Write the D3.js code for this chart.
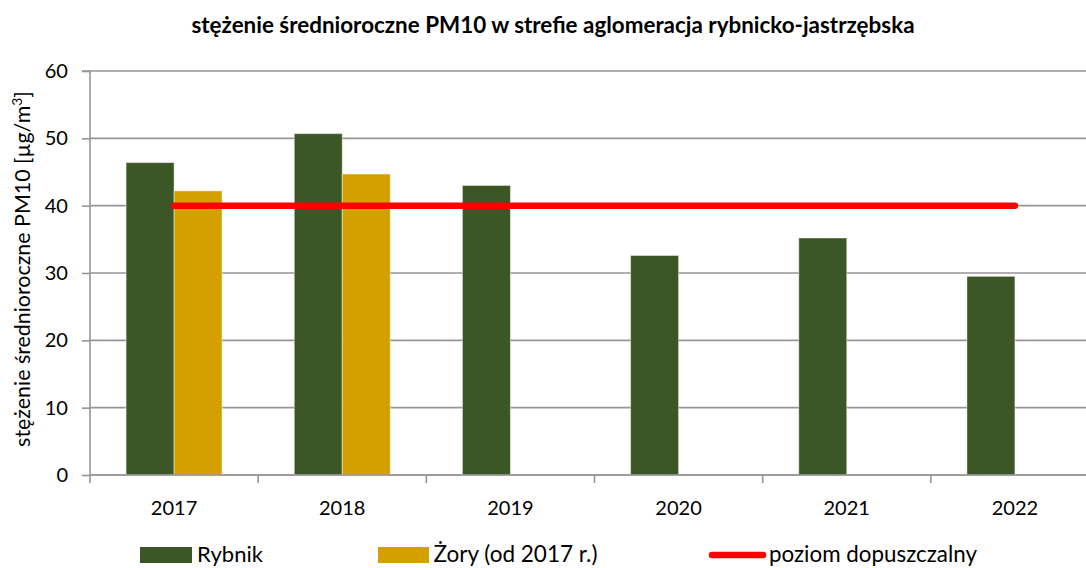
<!DOCTYPE html>
<html><head><meta charset="utf-8">
<script src="https://cdn.jsdelivr.net/npm/d3@7"></script>
<style>body{margin:0;background:#fff}svg{display:block}</style>
</head><body>
<script>
const years = ["2017","2018","2019","2020","2021","2022"];
const rybnik = [46.4, 50.7, 43.0, 32.6, 35.2, 29.5];
const zory = [42.2, 44.7, null, null, null, null];
const limitValues = [40, 40, 40, 40, 40, 40];
const yTicks = [0, 10, 20, 30, 40, 50, 60];
const seriesNames = ["Rybnik", "Żory (od 2017 r.)", "poziom dopuszczalny"];
const titleText = "stężenie średnioroczne PM10 w strefie aglomeracja rybnicko-jastrzębska";

const W = 1086, H = 568;
const FONT = "Lato, 'Open Sans', sans-serif";
const colors = {rybnik: "#3c5725", zory: "#d4a000", limit: "#ff0000", grid: "#969696"};

const svg = d3.select("body").append("svg").attr("width", W).attr("height", H)
  .style("font-family", FONT);

function fit(sel, target) {
  const n = sel.node();
  const fs = parseFloat(sel.attr("font-size"));
  const w = n.getComputedTextLength();
  if (w > 0) sel.attr("font-size", (fs * target / w).toFixed(2));
  return sel;
}

const x = d3.scaleBand().domain(years).range([90, 1099]).paddingInner(0).paddingOuter(0);
const xs = d3.scaleBand().domain(["rybnik", "zory"]).range([0, x.bandwidth()]).paddingOuter(0.752);
const y = d3.scaleLinear().domain([0, 60]).range([475, 71]);

// gridlines
svg.append("g").selectAll("line").data(yTicks).join("line")
  .attr("x1", 90).attr("x2", W).attr("y1", d => y(d)).attr("y2", d => y(d))
  .attr("stroke", colors.grid).attr("stroke-width", 1.6);

// bars
const rows = years.map((yr, i) => ({yr, rybnik: rybnik[i], zory: zory[i]}));
const g = svg.append("g");
rows.forEach(r => {
  ["rybnik", "zory"].forEach(k => {
    if (r[k] == null) return;
    g.append("rect")
      .attr("x", x(r.yr) + xs(k)).attr("width", xs.bandwidth())
      .attr("y", y(r[k])).attr("height", y(0) - y(r[k]))
      .attr("fill", colors[k]).attr("stroke", "rgba(255,255,255,0.45)").attr("stroke-width", 1);
  });
});

// y axis
const yAxis = d3.axisLeft(y).tickValues(yTicks).tickSize(8).tickPadding(14).tickFormat(d3.format("d"));
const ya = svg.append("g").attr("transform", "translate(90,0)").call(yAxis);
ya.select(".domain").attr("stroke", colors.grid).attr("stroke-width", 1.6).attr("d", `M-8,${y(60)}H0V${y(0)}`);
ya.selectAll(".tick line").attr("stroke", colors.grid).attr("stroke-width", 1.6);
ya.selectAll(".tick text").attr("font-size", 20).attr("fill", "#000").style("font-family", FONT);

// x axis
svg.append("line").attr("x1", 90).attr("x2", W).attr("y1", y(0)).attr("y2", y(0))
  .attr("stroke", colors.grid).attr("stroke-width", 1.6);
svg.append("g").selectAll("line").data(years).join("line")
  .attr("x1", d => x(d)).attr("x2", d => x(d)).attr("y1", y(0)).attr("y2", y(0) + 8)
  .attr("stroke", colors.grid).attr("stroke-width", 1.6);
const xl = svg.append("g").selectAll("text").data(years).join("text")
  .attr("x", d => x(d) + x.bandwidth() / 2).attr("y", 515)
  .attr("text-anchor", "middle").attr("font-size", 20).text(d => d);
xl.each(function(){ fit(d3.select(this), 46.5); });
const tickFs = d3.select(xl.nodes()[0]).attr("font-size");
ya.selectAll(".tick text").attr("font-size", tickFs);

// limit line
const line = d3.line().x(d => x(d.yr) + x.bandwidth() / 2).y(d => y(d.v));
svg.append("path").datum(years.map((yr, i) => ({yr, v: limitValues[i]})))
  .attr("d", line).attr("fill", "none").attr("stroke", colors.limit)
  .attr("stroke-width", 6.5).attr("stroke-linecap", "round");

// title
const t = svg.append("text").attr("x", 553).attr("y", 33).attr("text-anchor", "middle")
  .attr("font-weight", "bold").attr("font-size", 18).text(titleText);
fit(t, 723);

// y title
const yt = svg.append("text").attr("transform", `translate(30,269) rotate(-90)`)
  .attr("text-anchor", "middle").attr("font-size", 18);
yt.append("tspan").text("stężenie średnioroczne PM10 [µg/m");
yt.append("tspan").attr("font-size", "0.65em").attr("dy", "-0.6em").text("3");
yt.append("tspan").attr("dy", "0.39em").text("]");
fit(yt, 356);

// legend
const lg = svg.append("g");
lg.append("rect").attr("x", 140).attr("y", 547).attr("width", 52).attr("height", 16).attr("fill", colors.rybnik);
lg.append("rect").attr("x", 378).attr("y", 547).attr("width", 51).attr("height", 16).attr("fill", colors.zory);
lg.append("line").attr("x1", 712).attr("x2", 763).attr("y1", 555).attr("y2", 555)
  .attr("stroke", colors.limit).attr("stroke-width", 6.5).attr("stroke-linecap", "round");
const lt = [[197, 66, seriesNames[0]], [433.5, 164, seriesNames[1]], [769, 208, seriesNames[2]]];
lt.forEach(([lx, lw, s]) => {
  const tt = lg.append("text").attr("x", lx).attr("y", 562).attr("font-size", 20).text(s);
  fit(tt, lw);
});
</script>
</body></html>
